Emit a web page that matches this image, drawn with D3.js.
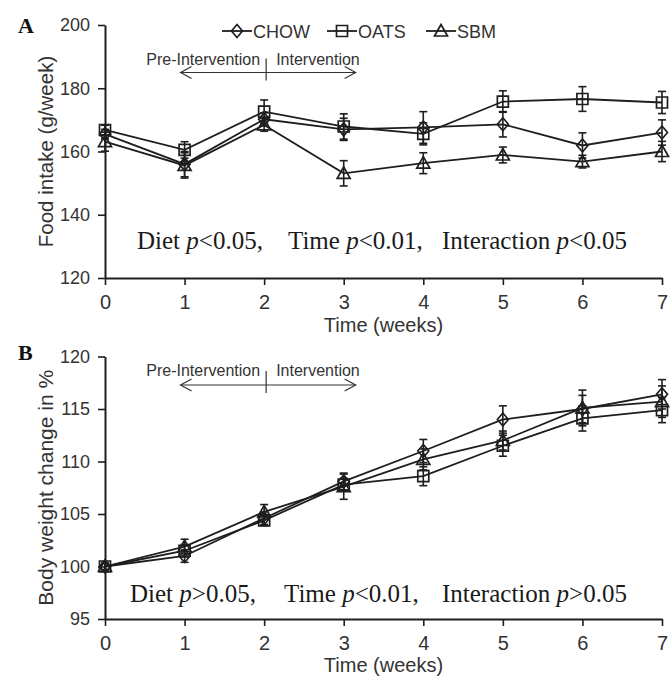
<!DOCTYPE html>
<html><head><meta charset="utf-8">
<script src="https://cdn.jsdelivr.net/npm/d3@7"></script>
<style>body{margin:0;background:#fff}svg{display:block}</style>
</head><body>
<svg id="chart" width="672" height="679"></svg>
<script>
const weeks = [0,1,2,3,4,5,6,7];
const seriesNames = ["CHOW","OATS","SBM"];
// Panel A: food intake (g/week)
const foodCHOW = [165.5,156.0,170.2,167.0,167.6,168.6,161.9,166.0];
const foodOATS = [166.8,160.5,172.6,167.9,165.6,175.8,176.6,175.5];
const foodSBM  = [163.1,155.6,168.4,153.1,156.3,158.9,156.8,160.0];
const foodErrCHOW = [1.5,4.0,2.0,3.5,5.0,4.0,4.0,4.0];
const foodErrOATS = [1.5,2.6,3.7,4.0,3.5,3.4,3.9,3.5];
const foodErrSBM  = [3.0,4.0,2.0,4.0,3.3,2.5,2.0,3.2];
// Panel B: body weight change in %
const bwCHOW = [100,101.0,104.6,108.1,111.0,114.0,115.0,116.4];
const bwOATS = [100,101.5,104.4,107.8,108.6,111.5,114.1,114.9];
const bwSBM  = [100,101.9,105.2,107.6,110.2,112.0,115.1,115.7];
const bwErrCHOW = [0.3,0.6,0.6,0.8,1.1,1.3,1.3,1.4];
const bwErrOATS = [0.3,0.6,0.5,0.6,0.9,1.0,1.2,1.2];
const bwErrSBM  = [0.3,0.7,0.7,1.2,1.0,0.9,1.7,1.5];
const foodTicks = [120,140,160,180,200];
const bwTicks = [95,100,105,110,115,120];

const svg = d3.select("#chart");
const INK = "#1e1e1e";
const SANS = "Liberation Sans, Arial, sans-serif";
const SERIF = "Liberation Serif, Times New Roman, serif";

const shapes = {
  CHOW: "M0,-6.5L5.5,0L0,6.5L-5.5,0Z",
  OATS: "M-5.5,-5.5H5.5V5.5H-5.5Z",
  SBM:  "M0,-6.5L6.5,5L-6.5,5Z"
};

function panel(cfg){
  const x = d3.scaleLinear().domain([0,7]).range([105,662]);
  const y = d3.scaleLinear().domain(cfg.domain).range(cfg.range);
  const g = svg.append("g");
  // axes
  const ya = g.append("g").attr("transform","translate(105,0)")
    .call(d3.axisLeft(y).tickValues(cfg.ticks).tickFormat(d3.format("d")).tickSize(7).tickPadding(8).tickSizeOuter(0));
  const xa = g.append("g").attr("transform",`translate(0,${cfg.range[0]})`)
    .call(d3.axisBottom(x).tickValues(weeks).tickFormat(d3.format("d")).tickSize(7).tickPadding(10).tickSizeOuter(0));
  [ya,xa].forEach(a=>{
    a.select(".domain").attr("stroke",INK).attr("stroke-width",2);
    a.selectAll(".tick line").attr("stroke",INK).attr("stroke-width",1.6);
  });
  ya.selectAll(".tick text").attr("font-family",SANS).attr("font-size",18).attr("fill","#333");
  xa.selectAll(".tick text").attr("font-family",SANS).attr("font-size",20).attr("fill","#333");
  // x title
  g.append("text").attr("x",(x(0)+x(7))/2).attr("y",cfg.xTitleY).attr("text-anchor","middle")
    .attr("font-family",SANS).attr("font-size",20).attr("fill","#333").text("Time (weeks)");
  // y title
  const yc = (cfg.range[0]+cfg.range[1])/2;
  g.append("text").attr("transform",`translate(${cfg.yTitleX},${yc}) rotate(-90)`)
    .attr("text-anchor","middle").attr("font-family",SANS).attr("font-size",cfg.yTitleSize).attr("fill","#333")
    .text(cfg.yTitle);
  // panel letter
  g.append("text").attr("x",18).attr("y",cfg.letterY).attr("font-family",SERIF).attr("font-weight","bold")
    .attr("font-size",22).attr("fill","#111").text(cfg.letter);
  // intervention annotation
  const ax0 = x(1)-4, ax1 = x(3.15), ay = cfg.arrowY;
  const ann = g.append("g").attr("stroke","#333").attr("stroke-width",1.2).attr("fill","none");
  ann.append("line").attr("x1",ax0).attr("x2",ax1).attr("y1",ay).attr("y2",ay);
  ann.append("path").attr("d",`M${ax0+11},${ay-6}L${ax0},${ay}L${ax0+11},${ay+6}`);
  ann.append("path").attr("d",`M${ax1-11},${ay-6}L${ax1},${ay}L${ax1-11},${ay+6}`);
  ann.append("line").attr("x1",x(2)+2).attr("x2",x(2)+2).attr("y1",ay-14).attr("y2",ay+8);
  g.append("text").attr("x",x(2)-4).attr("y",cfg.annY).attr("text-anchor","end")
    .attr("font-family",SANS).attr("font-size",16).attr("fill","#333").text("Pre-Intervention");
  g.append("text").attr("x",x(2)+12).attr("y",cfg.annY).attr("text-anchor","start")
    .attr("font-family",SANS).attr("font-size",16).attr("fill","#333").text("Intervention");
  // series
  const line = d3.line().x((d,i)=>x(weeks[i])).y(d=>y(d));
  cfg.series.forEach(s=>{
    const sg = g.append("g");
    s.values.forEach((v,i)=>{
      const e = s.err[i], cx = x(weeks[i]);
      sg.append("line").attr("x1",cx).attr("x2",cx).attr("y1",y(v-e)).attr("y2",y(v+e)).attr("stroke",INK).attr("stroke-width",1.6);
      [v-e,v+e].forEach(t=>sg.append("line").attr("x1",cx-4).attr("x2",cx+4).attr("y1",y(t)).attr("y2",y(t)).attr("stroke",INK).attr("stroke-width",1.6));
    });
    sg.append("path").attr("d",line(s.values)).attr("fill","none").attr("stroke",INK).attr("stroke-width",1.8);
    sg.selectAll("path.m").data(s.values).join("path").attr("class","m")
      .attr("d",shapes[s.name]).attr("transform",(d,i)=>`translate(${x(weeks[i])},${y(d)})`)
      .attr("fill","none").attr("stroke",INK).attr("stroke-width",1.7);
  });
  // stats text
  cfg.stats.forEach(st=>{
    const t = g.append("text").attr("x",st.x).attr("y",cfg.statsY).attr("font-family",SERIF)
      .attr("font-size",25).attr("fill","#1a1a1a");
    t.append("tspan").text(st.label+" ");
    t.append("tspan").attr("font-style","italic").text("p");
    t.append("tspan").text(st.rest);
  });
  return {x,y,g};
}

panel({
  letter:"A", letterY:33, domain:[120,200], range:[278,25], ticks:foodTicks,
  xTitleY:332, yTitle:"Food intake (g/week)", yTitleX:53, yTitleSize:20.5,
  arrowY:72.5, annY:65,
  series:[
    {name:"CHOW", values:foodCHOW, err:foodErrCHOW},
    {name:"OATS", values:foodOATS, err:foodErrOATS},
    {name:"SBM", values:foodSBM, err:foodErrSBM}
  ],
  statsY:249,
  stats:[{x:137,label:"Diet",rest:"<0.05,"},{x:288,label:"Time",rest:"<0.01,"},{x:442,label:"Interaction",rest:"<0.05"}]
});
panel({
  letter:"B", letterY:360, domain:[95,120], range:[619,356.5], ticks:bwTicks,
  xTitleY:672, yTitle:"Body weight change in %", yTitleX:53, yTitleSize:21,
  arrowY:385, annY:376,
  series:[
    {name:"CHOW", values:bwCHOW, err:bwErrCHOW},
    {name:"OATS", values:bwOATS, err:bwErrOATS},
    {name:"SBM", values:bwSBM, err:bwErrSBM}
  ],
  statsY:602,
  stats:[{x:130,label:"Diet",rest:">0.05,"},{x:284,label:"Time",rest:"<0.01,"},{x:442,label:"Interaction",rest:">0.05"}]
});

// legend
const legX = [237,342,441];
const leg = svg.append("g");
seriesNames.forEach((n,i)=>{
  const cx = legX[i], cy = 31;
  leg.append("line").attr("x1",cx-15).attr("x2",cx+15).attr("y1",cy).attr("y2",cy).attr("stroke",INK).attr("stroke-width",1.8);
  leg.append("path").attr("d",shapes[n]).attr("transform",`translate(${cx},${cy})`).attr("fill","none").attr("stroke",INK).attr("stroke-width",1.7);
  leg.append("text").attr("x",cx+16).attr("y",cy+6.5).attr("font-family",SANS).attr("font-size",18).attr("fill","#333").text(n);
});
</script>
</body></html>
